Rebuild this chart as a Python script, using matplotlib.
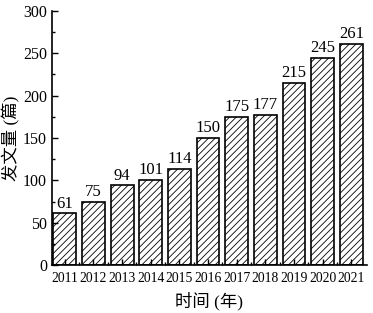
import matplotlib.pyplot as plt
from matplotlib.ticker import MultipleLocator, FixedLocator

plt.rcParams['font.family'] = ['Liberation Serif', 'Noto Sans CJK SC']
plt.rcParams['hatch.linewidth'] = 0.6

years = ['2011', '2012', '2013', '2014', '2015', '2016', '2017', '2018', '2019', '2020', '2021']
counts = [61, 75, 94, 101, 114, 150, 175, 177, 215, 245, 261]

fig = plt.figure(figsize=(3.73, 3.13), dpi=100)
ax = fig.add_axes([0.139, 0.153, 0.845, 0.812])

pos = list(range(len(years)))
bars = ax.bar(pos, counts, width=0.8, color='white', edgecolor='black',
              linewidth=1.2, hatch='/////')

for x, v in zip(pos, counts):
    ax.text(x, v + 2, str(v), ha='center', va='bottom', fontsize=12)

ax.set_xlim(-0.45, 10.55)
ax.set_ylim(0, 300)
ax.set_xticks(pos)
ax.set_xticklabels(years)
ax.xaxis.set_minor_locator(FixedLocator([p + 0.5 for p in pos[:-1]]))
ax.yaxis.set_major_locator(MultipleLocator(50))
ax.yaxis.set_minor_locator(MultipleLocator(25))
ax.tick_params(which='both', direction='in', width=1)
ax.tick_params(which='major', length=4)
ax.tick_params(which='minor', length=2.5)
ax.tick_params(axis='x', pad=5, labelsize=9.8)
ax.tick_params(axis='y', labelsize=11.5)

for s in ['top', 'right']:
    ax.spines[s].set_visible(False)
for s in ['left', 'bottom']:
    ax.spines[s].set_linewidth(1.2)

ax.set_xlabel('时间 (年)', fontsize=12.5, labelpad=5)
ax.set_ylabel('发文量 (篇)', fontsize=12.5, labelpad=2)

fig.savefig('out.png', dpi=100)
